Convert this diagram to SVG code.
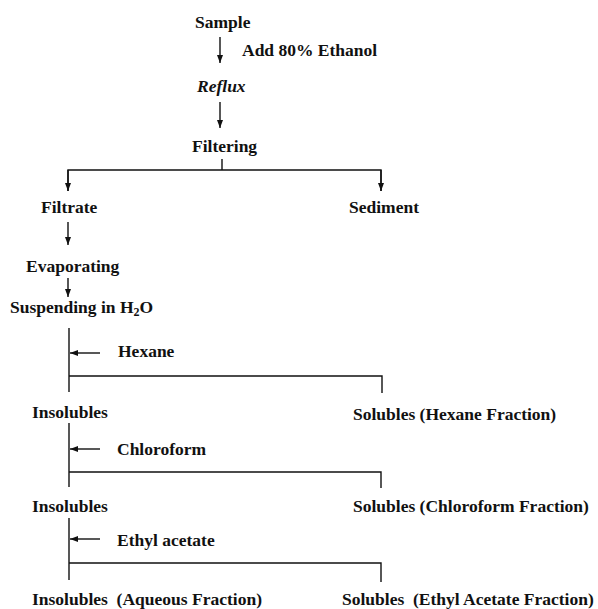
<svg xmlns="http://www.w3.org/2000/svg" width="598" height="609" viewBox="0 0 598 609">
<style>
text{font-family:"Liberation Serif","Times New Roman",serif;font-weight:bold;font-size:17.5px;fill:#111}
.c{stroke:#111;stroke-width:1.4;fill:none}
.it{font-style:italic}
.sub{font-size:12px}
</style>
<defs>
<marker id="ah" viewBox="0 0 8 6" refX="8" refY="3" markerWidth="8" markerHeight="6" markerUnits="userSpaceOnUse" orient="auto">
<path d="M0,0 L8,3 L0,6 z" fill="#111"/>
</marker>
</defs>
<rect width="598" height="609" fill="#fff"/>
<g id="connectors">
<line class="c" x1="220" y1="37" x2="220" y2="63" marker-end="url(#ah)"/>
<line class="c" x1="220" y1="102" x2="220" y2="128" marker-end="url(#ah)"/>
<line class="c" x1="222" y1="159" x2="222" y2="170"/>
<polyline class="c" points="68,191 68,170 381,170 381,191"/>
<line class="c" x1="68" y1="170" x2="68" y2="191" marker-end="url(#ah)"/>
<line class="c" x1="381" y1="170" x2="381" y2="191" marker-end="url(#ah)"/>
<line class="c" x1="68" y1="222" x2="68" y2="245" marker-end="url(#ah)"/>
<line class="c" x1="68" y1="278" x2="68" y2="297" marker-end="url(#ah)"/>
<line class="c" x1="69" y1="328" x2="69" y2="392"/>
<line class="c" x1="100" y1="353" x2="70" y2="353" marker-end="url(#ah)"/>
<polyline class="c" points="69,376 382,376 382,393"/>
<line class="c" x1="69" y1="423" x2="69" y2="487"/>
<line class="c" x1="100" y1="449" x2="70" y2="449" marker-end="url(#ah)"/>
<polyline class="c" points="69,472 381,472 381,488"/>
<line class="c" x1="69" y1="518" x2="69" y2="580"/>
<line class="c" x1="100" y1="539" x2="70" y2="539" marker-end="url(#ah)"/>
<polyline class="c" points="69,563 381,563 381,582"/>
</g>
<g id="sample"><text x="195" y="28">Sample</text></g>
<g id="add-ethanol"><text x="242" y="56">Add 80% Ethanol</text></g>
<g id="reflux"><text class="it" x="197" y="92">Reflux</text></g>
<g id="filtering"><text x="192" y="152">Filtering</text></g>
<g id="filtrate"><text x="41" y="213">Filtrate</text></g>
<g id="sediment"><text x="349" y="213">Sediment</text></g>
<g id="evaporating"><text x="26" y="272">Evaporating</text></g>
<g id="suspending"><text x="10" y="313">Suspending in H<tspan class="sub" dy="3">2</tspan><tspan dy="-3">O</tspan></text></g>
<g id="hexane"><text x="118" y="357">Hexane</text></g>
<g id="insolubles1"><text x="32" y="418">Insolubles</text></g>
<g id="solubles-hexane"><text x="353" y="420">Solubles (Hexane Fraction)</text></g>
<g id="chloroform"><text x="117" y="455">Chloroform</text></g>
<g id="insolubles2"><text x="32" y="512">Insolubles</text></g>
<g id="solubles-chloroform"><text x="353" y="512">Solubles (Chloroform Fraction)</text></g>
<g id="ethyl-acetate"><text x="117" y="546">Ethyl acetate</text></g>
<g id="insolubles-aqueous"><text x="32" y="605" xml:space="preserve">Insolubles  (Aqueous Fraction)</text></g>
<g id="solubles-ethyl"><text x="342" y="605" xml:space="preserve">Solubles  (Ethyl Acetate Fraction)</text></g>
</svg>
